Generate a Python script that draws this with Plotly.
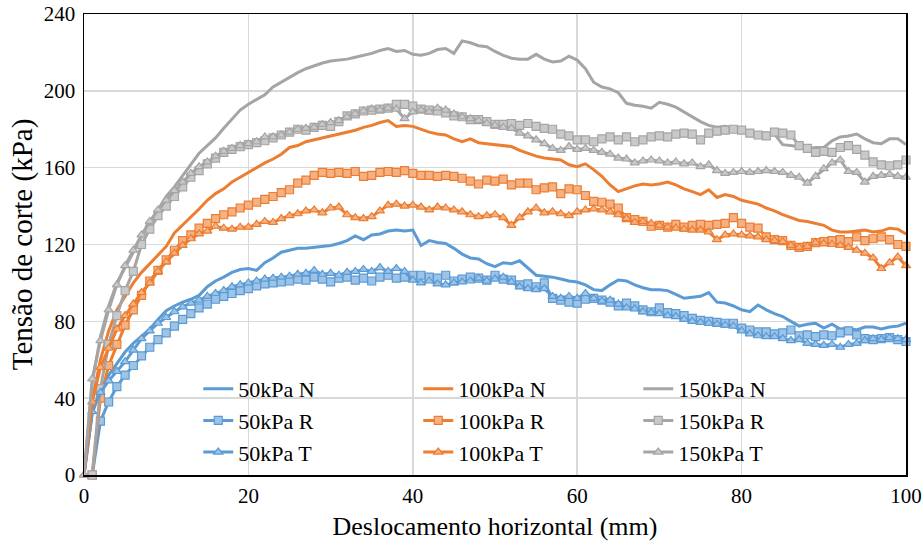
import plotly.graph_objects as go

x_n = list(range(0, 101))
x_r = list(range(1, 101))
x_t = list(range(0, 101))

y50_N = [0, 32, 45, 52, 58, 64, 68.5, 72, 76, 81, 85.5, 88, 90, 91.5, 93.5, 98, 101, 103, 105.5, 107,
         107.5, 106.5, 110.5, 113, 116, 117, 118, 118, 118.5, 119, 119.5, 120.5, 122, 124.5, 122.5, 125, 125.5, 127, 127.5, 127,
         127.5, 119.5, 122, 121, 120.5, 118, 115, 113, 112.5, 110, 108.5, 110.5, 110, 111.5, 108, 104, 103.5, 103, 102, 101,
         100.5, 99, 96.5, 96, 99, 101.5, 101, 99, 97.5, 96.5, 96.5, 96, 94, 92, 92.5, 93, 95, 90, 89.5, 88,
         86, 85, 88.5, 86, 84, 82.5, 80, 77.5, 78.5, 79, 76.5, 78.5, 76, 76.5, 75.5, 77, 77, 76, 77, 77.5, 79]
y50_R = [0, 28, 38, 46, 52, 57, 62, 66.5, 70.5, 74, 77.5, 81, 84, 87, 89, 91.5, 93, 94.5, 96, 97,
         98.5, 99.5, 100, 100.5, 101, 102, 101.5, 103, 102, 100.5, 102.5, 103, 101.5, 102.5, 101, 103, 104, 102.5, 103, 104,
         104, 103, 102.5, 104, 101, 102, 103, 102.5, 101.5, 104, 102, 101.5, 99, 99.5, 98, 100, 92, 91, 90, 89.5,
         91.5, 92, 91, 90, 88, 89.5, 88, 86, 85, 87, 84.5, 84, 83, 81.5, 80.5, 80, 79.5, 79, 79, 76.5,
         75.5, 74.5, 74.5, 73.5, 74, 75.5, 72.5, 73, 72, 73, 72.5, 74, 75, 73, 71, 70.5, 71, 71.5, 70.5, 69.5]
y50_T = [0, 33, 43, 49, 54, 59, 65, 71, 75, 79, 82, 85, 87.5, 89.5, 91, 93, 94.5, 96, 98, 99,
         100, 101, 102, 102.5, 103, 103.5, 104.5, 105, 106.5, 104.5, 105, 104, 105.5, 106, 107, 106, 108, 106, 107.5, 106,
         101.5, 100, 101, 99.5, 99, 100, 100.5, 101, 102.5, 101, 102, 103, 100.5, 98, 97, 96.5, 97, 93, 92, 93,
         92, 94.5, 92, 90.5, 91, 89, 87, 86.5, 85, 84.5, 84, 83, 82.5, 81, 80, 79.5, 79, 78.5, 78, 77.5,
         75, 73.5, 72.5, 72, 72, 71, 70, 70.5, 68.5, 68, 67.5, 68, 66.5, 68, 68.5, 70, 71, 70.5, 71.5, 71, 70.5]

y100_N = [0, 39, 60, 75, 86, 93, 100, 105.5, 110, 114.5, 119, 126, 130, 134, 138.5, 143, 146.5, 149, 152.5, 155,
          157.5, 160, 162.5, 164.5, 167, 170.5, 171.5, 173.5, 174.5, 175.5, 176.5, 177.5, 178.5, 179.5, 181, 182, 183.5, 184.5, 181.5, 182,
          181.5, 180, 178.5, 177.5, 177, 175, 173.5, 175, 173, 172.5, 172, 171.5, 171, 169, 167.5, 166, 165, 164.5, 164, 161.5,
          160.5, 162, 159, 155.5, 151, 147.5, 149, 150.5, 151.5, 151, 151.5, 152.5, 151, 149, 147.5, 146, 148.5, 144.5, 146, 145,
          143, 142, 141, 139, 137.5, 135.5, 134, 132.5, 132, 131, 130, 127.5, 126.5, 126.5, 127, 127.5, 126.5, 127, 128.5, 128, 125.5]
y100_R = [0, 40, 57, 68, 78, 86, 93.5, 101, 106.5, 112, 117, 122, 125, 128.5, 131, 133.5, 135.5, 137, 139, 140.5,
          142, 143.5, 145, 147, 148.5, 152, 153.5, 156, 157.5, 157, 157.5, 157, 158, 155.5, 156, 157.5, 158, 157.5, 158.5, 157,
          156, 156, 155.5, 156, 155.5, 154.5, 153, 151.5, 153.5, 153, 154, 151, 152, 152, 148.5, 149.5, 150, 146.5, 149, 148.5,
          145.5, 142.5, 142, 141, 139, 134, 133, 132, 129.5, 130, 129, 130.5, 129, 130, 130.5, 130, 130.5, 131, 134, 131,
          129, 128.5, 124, 122.5, 122, 119.5, 118.5, 119, 121, 121.5, 122, 122.5, 121.5, 124, 122, 123, 124, 122.5, 120, 119]
y100_T = [0, 38, 56, 66, 76, 83, 89, 95, 100, 106, 111, 115.5, 119.5, 123, 125.5, 127, 129.5, 128.5, 128, 129,
          129, 130.5, 132, 131.5, 133.5, 135, 136, 137.5, 138, 136.5, 139, 139.5, 135.5, 134, 133.5, 134.5, 137.5, 140.5, 141, 140,
          140.5, 139.5, 138, 139.5, 139, 138, 137, 135.5, 134.5, 135, 135.5, 134, 130, 134, 137, 139, 136.5, 137, 136, 135,
          137, 138, 138.5, 138, 137, 135.5, 133.5, 131.5, 132, 131, 130, 129, 128.5, 128, 127.5, 127.5, 126.5, 122.5, 125, 125.5,
          125, 124.5, 124, 122.5, 122, 121.5, 119.5, 118.5, 119, 121, 120.5, 120, 119.5, 118.5, 117, 115.5, 113, 107.5, 110.5, 113.5, 109]

y150_N = [0, 48, 72, 88, 100, 108, 116, 124, 131, 138, 145, 150, 156, 162, 167.5, 171.5, 175.5, 180.5, 185.5, 190,
          193, 195.5, 198, 202, 204.5, 207, 209.5, 211.5, 213, 214.5, 215.5, 216, 216.5, 217.5, 218.5, 219.5, 221, 222, 220.5, 221,
          219, 218.5, 219.5, 221.5, 222, 219.5, 226, 225, 223.5, 223, 220.5, 218.5, 217, 216.5, 216.5, 219, 216.5, 215, 215.5, 218,
          216, 211.5, 204.5, 202, 201, 199, 193.5, 192.5, 192, 191, 194, 193, 191.5, 189, 186.5, 184, 182, 181, 181.5, 180.5,
          179.5, 179, 178, 178, 177.5, 172, 171.5, 171, 170, 170.5, 170.5, 174, 176, 176.5, 177.5, 175, 173, 172.5, 175, 175, 172]
y150_R = [0, 45, 68, 83, 96, 106, 120, 128, 135, 140, 145, 150, 155, 158.5, 162, 165, 168, 169.5, 171, 172,
          173, 174, 175.5, 177, 178.5, 180, 179.5, 181, 182, 181.5, 184, 187, 188, 189.5, 190, 190.5, 191, 193, 193, 192,
          190.5, 190, 189.5, 188.5, 187, 186.5, 185, 185, 184, 182.5, 182.5, 183, 182, 183, 181.5, 180.5, 180, 177.5, 176.5, 174.5,
          174.5, 173.5, 175, 176, 174.5, 176, 173.5, 174.5, 176, 176.5, 176, 177.5, 178, 177.5, 174.5, 178, 179, 179.5, 180, 179.5,
          178, 177, 176.5, 178.5, 178, 177, 171.5, 170, 168, 168.5, 168, 170.5, 171.5, 169.5, 166.5, 163, 161.5, 161, 161.5, 164]
y150_T = [0, 50, 70, 86, 99, 109, 117, 125, 132, 138, 143, 148, 152.5, 157, 160.5, 163, 166, 168.5, 170, 171.5,
          172.5, 173.5, 176, 176, 177, 178.5, 180, 180.5, 181, 182.5, 183.5, 184.5, 186.5, 188, 189.5, 190.5, 190, 191, 190.5, 185.5,
          189, 190, 189, 191, 190, 188, 186.5, 185.5, 184.5, 183, 182, 181, 180.5, 178, 176.5, 174.5, 172.5, 170, 169, 171,
          169.5, 170, 169, 168, 167, 165, 164.5, 162.5, 163.5, 164, 163.5, 162.5, 163, 162, 162.5, 160.5, 161.5, 158.5, 157, 157.5,
          158, 157.5, 158, 158.5, 158, 157.5, 156, 155, 152, 155.5, 159.5, 162.5, 164, 158, 157.5, 152.5, 155.5, 156, 156.5, 155.5, 155]

names = ["50kPa N", "100kPa N", "150kPa N",
         "50kPa R", "100kPa R", "150kPa R",
         "50kPa T", "100kPa T", "150kPa T"]

line_col = {"50": "#5B9BD5", "100": "#ED7D31", "150": "#A5A5A5"}
fill_col = {"50": "#9DC3E6", "100": "#F4B183", "150": "#C9C9C9"}

series = {
    "50kPa N": (x_n, y50_N), "100kPa N": (x_n, y100_N), "150kPa N": (x_n, y150_N),
    "50kPa R": (x_r, y50_R), "100kPa R": (x_r, y100_R), "150kPa R": (x_r, y150_R),
    "50kPa T": (x_t, y50_T), "100kPa T": (x_t, y100_T), "150kPa T": (x_t, y150_T),
}

fig = go.Figure()
for nm in names:
    key = nm.split("kPa")[0]
    kind = nm[-1]
    xs, ys = series[nm]
    if kind == "N":
        fig.add_trace(go.Scatter(x=xs, y=ys, name=nm, mode="lines",
                                 line=dict(color=line_col[key], width=3), cliponaxis=False))
    else:
        sym = "square" if kind == "R" else "triangle-up"
        fig.add_trace(go.Scatter(x=xs, y=ys, name=nm, mode="lines+markers",
                                 line=dict(color=line_col[key], width=3),
                                 marker=dict(symbol=sym, size=8, color=fill_col[key],
                                             line=dict(color=line_col[key], width=1.2)),
                                 cliponaxis=False))

ff = "Times New Roman, Liberation Serif, Tinos, serif"
fig.update_layout(
    width=924, height=549,
    margin=dict(l=84, r=18, t=14, b=74, autoexpand=False),
    paper_bgcolor="white", plot_bgcolor="white",
    font=dict(family=ff, color="black"),
    showlegend=True,
    legend=dict(orientation="h", x=0.139, y=0.232, xanchor="left", yanchor="top",
                entrywidth=175, entrywidthmode="pixels",
                bgcolor="rgba(0,0,0,0)", font=dict(size=22, family=ff, color="black")),
    xaxis=dict(range=[0, 100], tickvals=[0, 20, 40, 60, 80, 100], showgrid=True,
               gridcolor="#D9D9D9", gridwidth=1.5, zeroline=False, automargin=False,
               showline=True, linecolor="black", linewidth=1.5, mirror=True,
               ticks="", tickfont=dict(size=21, family=ff, color="black"), ticklabelstandoff=1,
               ticklabeloverflow="allow",
               title=dict(text="Deslocamento horizontal (mm)", font=dict(size=26, family=ff, color="black"), standoff=10)),
    yaxis=dict(range=[0, 240], tickvals=[0, 40, 80, 120, 160, 200, 240], showgrid=True,
               gridcolor="#D9D9D9", gridwidth=1.5, zeroline=False, automargin=False,
               showline=True, linecolor="black", linewidth=1.5, mirror=True,
               ticks="", tickfont=dict(size=21, family=ff, color="black"), ticklabelstandoff=3,
               ticklabeloverflow="allow",
               title=dict(text="Tensão de corte (kPa)", font=dict(size=29, family=ff, color="black"), standoff=2)),
)

fig.write_html("out.html", config={"displayModeBar": False, "staticPlot": True},
               post_script="document.body.style.margin='0';document.body.style.padding='0';document.documentElement.style.overflow='hidden';")
